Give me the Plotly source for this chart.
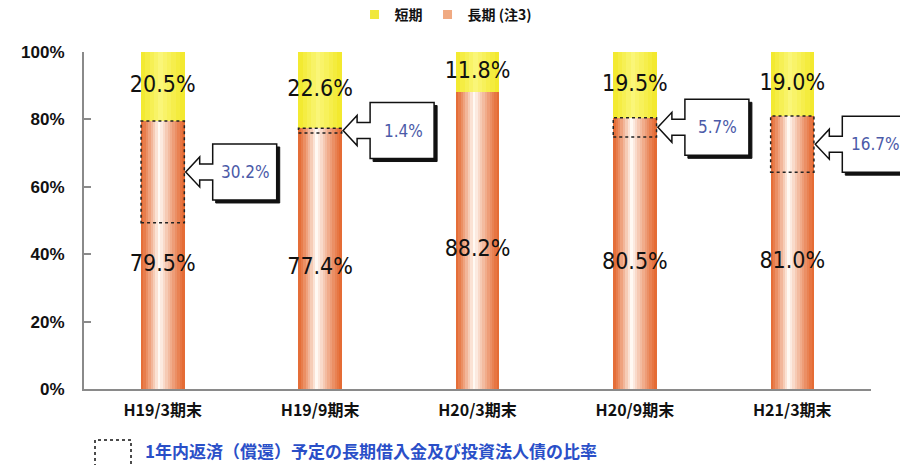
import plotly.graph_objects as go

# ---------------- data ----------------
categories = ["H19/3期末", "H19/9期末", "H20/3期末", "H20/9期末", "H21/3期末"]
short_term = [20.5, 22.6, 11.8, 19.5, 19.0]
long_term = [79.5, 77.4, 88.2, 80.5, 81.0]
repay_1yr = [30.2, 1.4, None, 5.7, 16.7]
short_labels = ["20.5%", "22.6%", "11.8%", "19.5%", "19.0%"]
long_labels = ["79.5%", "77.4%", "88.2%", "80.5%", "81.0%"]
repay_labels = ["30.2%", "1.4%", "", "5.7%", "16.7%"]
y_ticks = [0, 20, 40, 60, 80, 100]
y_tick_labels = ["0%", "20%", "40%", "60%", "80%", "100%"]
legend_names = ["短期", "長期 (注3)"]
note_text = "1年内返済（償還）予定の長期借入金及び投資法人債の比率"

# ---------------- style ----------------
W, H = 900, 465
M_L, M_R, M_T, M_B = 84, 29, 52, 76
PLOT_W = W - M_L - M_R
PLOT_H = H - M_T - M_B
N = len(categories)
BAR_W = 0.275
ORANGE_EDGE = (228, 104, 48)
ORANGE_CENTER = (255, 250, 245)
YELLOW_EDGE = (242, 232, 40)
YELLOW_CENTER = (250, 246, 120)
NUM_FONT = "Liberation Sans Narrow, DejaVu Sans Condensed, Arial, sans-serif"
JP_FONT = "Noto Sans CJK JP, sans-serif"

x = list(range(N))


def mix(edge, center, t, peak=0.42, power=1.2):
    if t < peak:
        s = 1 - (peak - t) / peak
    else:
        s = 1 - (t - peak) / (1 - peak)
    s = max(0.0, min(1.0, s)) ** power
    r, g, b = (int(round(e + (c - e) * s)) for e, c in zip(edge, center))
    return f"rgb({r},{g},{b})"


fig = go.Figure()

# long-term bars (gradient built from strips)
STRIPS = 18
sw = BAR_W / STRIPS
for k in range(STRIPS):
    t = (k + 0.5) / STRIPS
    fig.add_trace(go.Bar(
        x=x, y=long_term, base=[0] * N,
        width=[sw + 0.002] * N, offset=-BAR_W / 2 + k * sw,
        marker=dict(color=mix(ORANGE_EDGE, ORANGE_CENTER, t), line=dict(width=0)),
        showlegend=False, hoverinfo="skip"))

# short-term bars
YSTRIPS = 10
ysw = BAR_W / YSTRIPS
for k in range(YSTRIPS):
    t = (k + 0.5) / YSTRIPS
    fig.add_trace(go.Bar(
        x=x, y=short_term, base=long_term,
        width=[ysw + 0.002] * N, offset=-BAR_W / 2 + k * ysw,
        marker=dict(color=mix(YELLOW_EDGE, YELLOW_CENTER, t, peak=0.45, power=1.0),
                    line=dict(width=0)),
        showlegend=False, hoverinfo="skip"))

# value labels
fig.add_trace(go.Scatter(
    x=x, y=[l + s / 2 for l, s in zip(long_term, short_term)], text=short_labels,
    mode="text", textfont=dict(family=NUM_FONT, size=23, color="#111"),
    showlegend=False, hoverinfo="skip"))
fig.add_trace(go.Scatter(
    x=x, y=[l / 2 - 3 for l in long_term], text=long_labels,
    mode="text", textfont=dict(family=NUM_FONT, size=23, color="#111"),
    showlegend=False, hoverinfo="skip"))

# legend entries
fig.add_trace(go.Scatter(
    x=[None], y=[None], mode="markers", name=legend_names[0],
    marker=dict(symbol="square", size=9, color="rgb(240,232,60)")))
fig.add_trace(go.Scatter(
    x=[None], y=[None], mode="markers", name=legend_names[1],
    marker=dict(symbol="square", size=9, color="rgb(240,170,130)")))

shapes = []
annotations = []


def px(i, dpx=0.0):
    return (i + 0.5) / N + dpx / PLOT_W


def py(v, dpy=0.0):
    return v / 100.0 + dpy / PLOT_H


for i, (l, r, lab) in enumerate(zip(long_term, repay_1yr, repay_labels)):
    if r is None:
        continue
    # dashed region inside bar
    shapes.append(dict(type="rect", xref="x", yref="y",
                       x0=i - BAR_W / 2, x1=i + BAR_W / 2, y0=l - r, y1=l,
                       line=dict(color="#222", width=1.5, dash="dot"),
                       fillcolor="rgba(0,0,0,0)", layer="above"))
    # callout
    yc = l - r / 2
    xl, xr, xtip, xn = 50, 114, 23, 37
    hh, a, b = 28, 8, 15

    def P(dx, dy):
        return f"{px(i, dx):.5f},{py(yc, dy):.5f}"

    shadow = f"M {P(xl+3, hh-3)} L {P(xr+3, hh-3)} L {P(xr+3, -hh-3)} L {P(xl+3, -hh-3)} Z"
    shapes.append(dict(type="path", xref="paper", yref="paper", path=shadow,
                       fillcolor="#111", line=dict(color="#111", width=1)))
    body = (f"M {P(xl, hh)} L {P(xr, hh)} L {P(xr, -hh)} L {P(xl, -hh)} "
            f"L {P(xl, -a)} L {P(xn, -a)} L {P(xn, -b)} L {P(xtip, 0)} "
            f"L {P(xn, b)} L {P(xn, a)} L {P(xl, a)} Z")
    shapes.append(dict(type="path", xref="paper", yref="paper", path=body,
                       fillcolor="white", line=dict(color="#111", width=1.5)))
    annotations.append(dict(xref="paper", yref="paper", x=px(i, (xl + xr) / 2 + 1),
                            y=py(yc), text=lab, showarrow=False,
                            xanchor="center", yanchor="middle",
                            font=dict(family=NUM_FONT, size=17, color="#4B5AA8")))

# bottom note
base_px = M_T + PLOT_H
shapes.append(dict(type="rect", xref="paper", yref="paper",
                   x0=(95 - M_L) / PLOT_W, x1=(131 - M_L) / PLOT_W,
                   y0=-(470 - base_px) / PLOT_H, y1=-(440 - base_px) / PLOT_H,
                   line=dict(color="#111", width=1.5, dash="dot"), fillcolor="white"))
annotations.append(dict(xref="paper", yref="paper", x=(143 - M_L) / PLOT_W,
                        y=-(451 - base_px) / PLOT_H, xanchor="left", yanchor="middle",
                        text=f"<b>{note_text}</b>", showarrow=False,
                        font=dict(family=JP_FONT, size=17, color="#2A4FC8")))

fig.update_layout(
    width=W, height=H, autosize=False,
    margin=dict(l=M_L, r=M_R, t=M_T, b=M_B, autoexpand=False),
    paper_bgcolor="white", plot_bgcolor="white",
    barmode="overlay", bargap=0,
    shapes=shapes, annotations=annotations,
    legend=dict(orientation="h", x=0.46, xanchor="center", y=1.11, yanchor="middle",
                font=dict(family=JP_FONT, size=14, color="#111", weight="bold"),
                itemwidth=30, bgcolor="rgba(0,0,0,0)"),
    xaxis=dict(range=[-0.5, N - 0.5], tickvals=x,
               ticktext=[f"<b>{c}</b>" for c in categories],
               tickfont=dict(family=JP_FONT, size=16, color="#111"),
               ticklabelstandoff=6,
               showline=True, linecolor="#8a8a8a", linewidth=2,
               showgrid=False, zeroline=False, ticks=""),
    yaxis=dict(range=[0, 100], tickvals=y_ticks, ticktext=y_tick_labels,
               tickfont=dict(family="Liberation Sans, Arial, sans-serif", size=17,
                             color="#111", weight="bold"),
               ticklabelstandoff=14,
               showline=True, linecolor="#8a8a8a", linewidth=2,
               ticks="inside", ticklen=7, tickcolor="#8a8a8a", tickwidth=2,
               showgrid=False, zeroline=False),
)

fig.write_html("out.html")
